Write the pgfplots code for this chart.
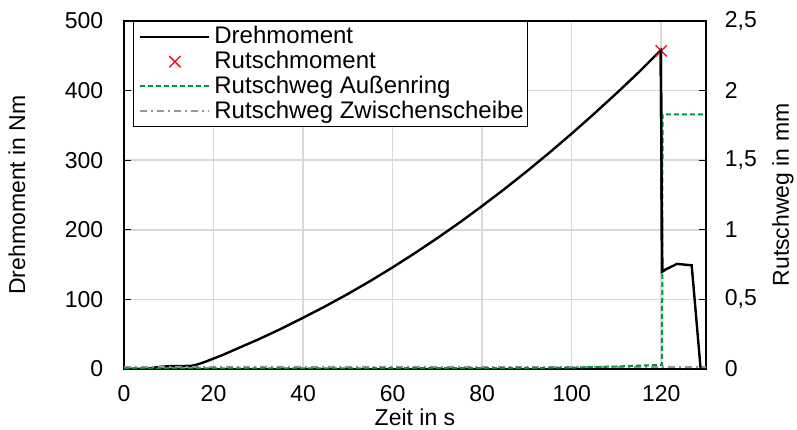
\documentclass[border=0pt]{standalone}
\usepackage{pgfplots}
\pgfplotsset{compat=1.18}
\usepackage{fontspec}
\setmainfont{Liberation Sans}
\definecolor{rgreen}{RGB}{0,146,69}
\definecolor{rred}{RGB}{230,30,40}
\definecolor{rgray}{RGB}{150,150,150}
\pgfplotsset{
  longline/.style={legend image code/.code={\path[draw=none,fill=none] (-6pt,0pt) rectangle (72pt,0.1pt);\draw[##1] (0pt,0pt) -- (69pt,0pt);}},
  midmark/.style={legend image code/.code={\path[draw=none,fill=none] (-6pt,0pt) rectangle (72pt,0.1pt);\draw[##1] plot coordinates {(34.5pt,0pt)};}},
}
\begin{document}
\fontsize{23}{27}\selectfont
\begin{tikzpicture}
\pgfplotsset{every axis/.append style={
  scale only axis, width=582pt, height=348pt, xmin=0, xmax=130,
  font=\fontsize{23}{27}\selectfont,
  /pgf/number format/assume math mode=true,
  /pgf/number format/use comma,
  tick align=inside, major tick length=7pt,
  tick style={black, line width=1pt},
  axis line style={black, line width=1.3pt},
}}
\begin{axis}[
  name=a,
  ymin=0, ymax=500,
  xtick={0,20,...,120}, ytick={0,100,...,500},
  xtick pos=bottom, ytick pos=left,
  major x tick style={draw=none},
  grid=major, grid style={gray!30, line width=1.5pt},
  xlabel={Zeit in s}, ylabel={Drehmoment in Nm},
  xticklabel style={yshift=-9pt},
  yticklabel style={xshift=-13pt},
  xlabel style={at={(rel axis cs:0.5,0)}, anchor=center, yshift=-48pt},
  ylabel style={at={(rel axis cs:0,0.5)}, anchor=center, yshift=107pt},
  legend cell align=left,
  legend style={at={(rel axis cs:0.0155,1)}, anchor=north west, draw=black, line width=0.8pt,
    font=\fontsize{24}{24}\selectfont, inner xsep=1pt, inner ysep=3pt, row sep=0pt},
  longline,
]
\addplot[black, line width=2.4pt] coordinates {
(0,0) (5,0.5) (8,3) (10,4) (15,4.5) (16,5.8) (17,7.8) (18,10) (20,15) (22,20) (25,28.5) (30,42.5) (35,57.5)
(40,73.6) (45,90.2) (50,107.8) (55,126.4) (60,146) (65,166.6) (70,188.1) (75,210.6)
(80,234.2) (85,258.7) (90,284.2) (95,310.7) (100,338.2) (105,366.7) (110,396.1)
(115,426.5) (119.9,458) (120.2,140) (121,143) (123.5,151) (126.8,149)
(128.8,0) (130,0)};
\addlegendentry{Drehmoment}
\addplot[only marks, mark=x, mark size=8pt, rred, line width=1.5pt, midmark] coordinates {(120,457)};
\addlegendentry{Rutschmoment}
\addlegendimage{draw=rgreen, line width=2pt, dash pattern=on 5pt off 3pt}
\addlegendentry{Rutschweg Außenring}
\addlegendimage{draw=rgray, line width=2pt, dash pattern=on 7pt off 4pt on 2pt off 4pt}
\addlegendentry{Rutschweg Zwischenscheibe}
\end{axis}
\begin{axis}[
  ymin=0, ymax=2.5,
  ytick={0,0.5,...,2.5},
  axis x line=none, axis y line*=right,
  yticklabel style={xshift=11pt},
  ylabel={Rutschweg in mm},
  ylabel style={at={(rel axis cs:1,0.5)}, anchor=center, yshift=-77pt},
  clip=true,
]
\addplot[rgray, line width=2pt, dash pattern=on 7pt off 4pt on 2pt off 4pt] coordinates {
(0,0.014) (30,0.016) (60,0.015) (90,0.014) (120,0.015) (130,0.013)};
\addplot[rgreen, line width=2pt, dash pattern=on 5pt off 3pt] coordinates {
(0,0.005) (40,0.005) (80,0.006) (100,0.01) (110,0.018) (119.9,0.03) (120.2,0.03) (120.3,1.83) (130,1.83)};
\end{axis}
\begin{axis}[ymin=0, ymax=500, axis lines=none, clip=true]
\addplot[black, line width=2.4pt] coordinates {
(119.9,458) (120.2,140) (121,143)};
\end{axis}
\pgfresetboundingbox
\path ([xshift=-124pt,yshift=-61pt]a.south west) rectangle ([xshift=91pt,yshift=21pt]a.north east);
\end{tikzpicture}
\end{document}
